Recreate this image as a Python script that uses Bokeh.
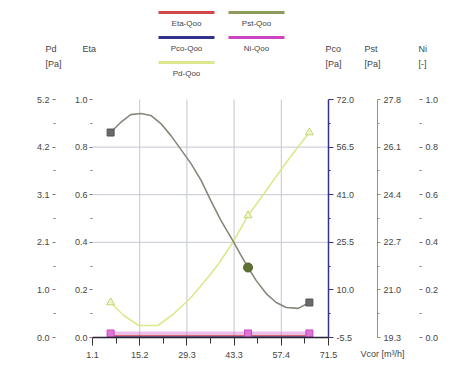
from bokeh.plotting import figure
from bokeh.models import Range1d, LinearAxis, FixedTicker, PrintfTickFormatter
from bokeh.core.properties import value
from bokeh.embed import file_html
from bokeh.resources import INLINE

# ---------------- data ----------------
x_ticks = [1.1, 15.18, 29.26, 43.34, 57.42, 71.5]
eta_ticks = [0.0, 0.2, 0.4, 0.6, 0.8, 1.0]
pd_ticks = [0.0, 1.04, 2.08, 3.12, 4.16, 5.2]
pco_ticks = [-5.5, 10.0, 25.5, 41.0, 56.5, 72.0]
pst_ticks = [19.3, 21.0, 22.7, 24.4, 26.1, 27.8]
ni_ticks = [0.0, 0.2, 0.4, 0.6, 0.8, 1.0]

# Pst-Qoo curve (olive axis)
pst_x = [6.5, 9.5, 12.5, 15.5, 18.5, 21.5, 24.5, 27.5, 30.5, 33.5, 36.4,
         39.4, 43.3, 45.4, 47.5, 49.9, 52.9, 55.9, 58.9, 62.5, 65.8]
pst_y = [26.62, 26.98, 27.26, 27.30, 27.23, 26.94, 26.51, 26.01, 25.51, 24.91, 24.19,
         23.48, 22.69, 22.23, 21.80, 21.34, 20.87, 20.55, 20.37, 20.34, 20.55]

# Pd-Qoo curve (Pd axis)
pd_x = [6.5, 10.4, 14.9, 20.6, 25.4, 30.5, 35.5, 38.8, 43.3, 47.5, 50.8, 54.4, 58.9, 62.5, 65.8]
pd_y = [0.765, 0.481, 0.262, 0.262, 0.524, 0.874, 1.311, 1.617, 2.119, 2.666, 2.993,
        3.365, 3.824, 4.173, 4.479]

# measured operating points
mark_x = [6.5, 47.5, 65.8]
pst_marks = [26.62, 21.80, 20.55]
pd_marks = [0.765, 2.666, 4.479]
eta_marks = [0.008, 0.008, 0.008]
ni_marks = [0.017, 0.017, 0.017]
pco_marks = [-5.3, -5.3, -5.3]

legend_names = ["Eta-Qoo", "Pst-Qoo", "Pco-Qoo", "Ni-Qoo", "Pd-Qoo"]
axis_titles = ["Pd", "Eta", "Pco", "Pst", "Ni"]
axis_units = ["[Pa]", "", "[Pa]", "[Pa]", "[-]"]
x_title = "Vcor [m³/h]"

# ---------------- style ----------------
FONT = "Liberation Sans"
TXT = "#444444"
C_ETA = "#d04848"
C_PST = "#8c9a5c"
C_PCO = "#33338f"
C_NI = "#cc44c4"
C_PD = "#dde88c"
C_GRID = "#c4c7d4"

W, H = 468, 367
FL, FR, FT, FB = 92, 328, 99, 337  # plot-area edges in page px


def dx(px):
    return x_ticks[0] + (px - FL) * (x_ticks[-1] - x_ticks[0]) / (FR - FL)


def dy(py):
    return eta_ticks[0] + (FB - py) * (eta_ticks[-1] - eta_ticks[0]) / (FB - FT)


def vrange(t):
    k = (t[-1] - t[0]) / (FB - FT)
    return Range1d(t[0] - (H - FB) * k, t[-1] + FT * k)


p = figure(width=W, height=H, output_backend="svg", toolbar_location=None,
           x_range=Range1d(dx(0), dx(W)), y_range=vrange(eta_ticks),
           min_border=0, outline_line_color=None,
           background_fill_color="white", border_fill_color="white")
p.grid.visible = False
p.extra_y_ranges = {"pd": vrange(pd_ticks), "pco": vrange(pco_ticks),
                    "pst": vrange(pst_ticks), "ni": vrange(ni_ticks)}


def mids(t):
    return [(a + b) / 2 for a, b in zip(t[:-1], t[1:])]


def style(ax, ticks, loc, line_color=None, tick_color="#777777", tick_out=3, standoff=3):
    ax.fixed_location = loc
    ax.bounds = (ticks[0], ticks[-1])
    ax.ticker = FixedTicker(ticks=ticks, minor_ticks=mids(ticks))
    ax.formatter = PrintfTickFormatter(format="%.1f")
    ax.major_label_text_font = FONT
    ax.major_label_text_font_size = "9px"
    ax.major_label_text_color = TXT
    ax.major_label_standoff = standoff
    ax.major_tick_in = 0
    ax.major_tick_out = tick_out
    ax.minor_tick_in = 0
    ax.minor_tick_out = 2
    ax.major_tick_line_color = tick_color
    ax.minor_tick_line_color = tick_color
    ax.axis_line_color = line_color


# grid lines at the inner ticks
gx = x_ticks[1:-1]
p.segment(gx, [eta_ticks[0]] * len(gx), gx, [eta_ticks[-1]] * len(gx), line_color=C_GRID, line_width=1)
gy = eta_ticks[2:5]
p.segment([x_ticks[0]] * len(gy), gy, [x_ticks[-1]] * len(gy), gy, line_color=C_GRID, line_width=1)

# axes
xa = p.xaxis[0]
style(xa, x_ticks, eta_ticks[0], line_color="#222233", tick_color="#333333", tick_out=8, standoff=6)
xa.axis_line_width = 1.5
xa.minor_tick_out = 6

style(p.yaxis[0], eta_ticks, dx(FL), tick_out=3, standoff=2)

pd_ax = LinearAxis(y_range_name="pd")
style(pd_ax, pd_ticks, dx(55), tick_out=3, standoff=3)
p.add_layout(pd_ax, "left")

pco_ax = LinearAxis(y_range_name="pco")
style(pco_ax, pco_ticks, dx(FR), line_color=C_PCO, tick_color=C_PCO, tick_out=5, standoff=3)
pco_ax.axis_line_width = 1.5
p.add_layout(pco_ax, "right")

pst_ax = LinearAxis(y_range_name="pst")
style(pst_ax, pst_ticks, dx(377), line_color=C_PST, tick_color=C_PST, tick_out=3, standoff=3)
p.add_layout(pst_ax, "right")

ni_ax = LinearAxis(y_range_name="ni")
style(ni_ax, ni_ticks, dx(419), tick_out=3, standoff=3)
p.add_layout(ni_ax, "right")

# ---------------- series ----------------
p.line(pd_x, pd_y, y_range_name="pd", line_color=C_PD, line_width=1.6)
p.scatter(mark_x, pd_marks, y_range_name="pd", marker="triangle", size=8,
          line_color="#c5d47a", fill_color="#eef4c4")

p.line(pst_x, pst_y, y_range_name="pst", line_color="#85887a", line_width=1.6)
p.scatter([mark_x[0], mark_x[2]], [pst_marks[0], pst_marks[2]], y_range_name="pst",
          marker="square", size=7, line_color="#555555", fill_color="#6a6a6a")
p.scatter([mark_x[1]], [pst_marks[1]], y_range_name="pst", marker="circle", size=9,
          line_color="#4f5f2a", fill_color="#5f7030")

p.line(mark_x, pco_marks, y_range_name="pco", line_color=C_PCO, line_width=1.2)
p.line(mark_x, ni_marks, y_range_name="ni", line_color=C_NI, line_width=4, line_alpha=0.35)
p.line(mark_x, eta_marks, line_color=C_ETA, line_width=1.2, line_alpha=0.8)
p.scatter(mark_x, ni_marks, y_range_name="ni", marker="square", size=7,
          line_color=C_NI, fill_color="#d977d2")

# ---------------- texts: axis titles, legend, x title ----------------
TXT_KW = dict(text_font=value(FONT), text_color=TXT, text_baseline="middle")

title_px = [45, 82, 325, 364, 418]
p.text([dx(v) for v in title_px], [dy(48)] * 5, axis_titles,
       text_font_size=value("9px"), text_align="left", **TXT_KW)
unit_px = [t for t, u in zip(title_px, axis_units) if u]
unit_t = [u for u in axis_units if u]
p.text([dx(v) for v in unit_px], [dy(63)] * len(unit_px), unit_t,
       text_font_size=value("9px"), text_align="left", **TXT_KW)

p.text([dx(360)], [dy(353)], [x_title], text_font_size=value("9px"), text_align="left", **TXT_KW)

leg_colors = [C_ETA, C_PST, C_PCO, C_NI, C_PD]
leg_cx = [186, 256, 186, 256, 186]
leg_row = [0, 0, 1, 1, 2]
leg_ly = [12 + 25 * r for r in leg_row]
p.segment([dx(c - 28) for c in leg_cx], [dy(v) for v in leg_ly],
          [dx(c + 28) for c in leg_cx], [dy(v) for v in leg_ly],
          line_color=leg_colors, line_width=3)
p.text([dx(c) for c in leg_cx], [dy(v + 11) for v in leg_ly], legend_names,
       text_font_size=value("8px"), text_align="center", **TXT_KW)

open("out.html", "w").write(file_html(p, INLINE))
